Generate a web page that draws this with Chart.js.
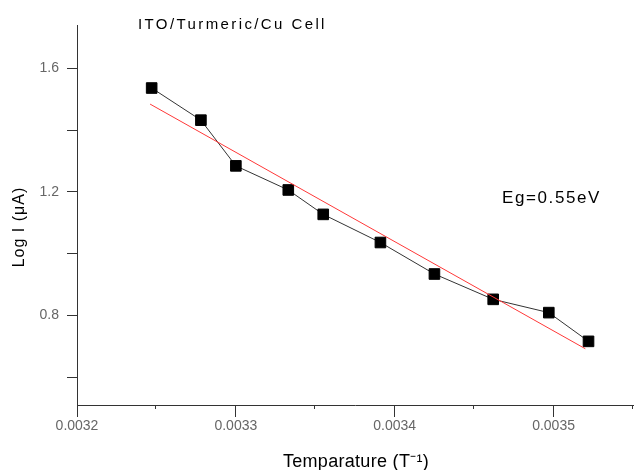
<!DOCTYPE html>
<html>
<head>
<meta charset="utf-8">
<script src="https://cdn.jsdelivr.net/npm/chart.js@4"></script>
<style>
  body { margin: 0; background: #fff; }
  #wrap { width: 634px; height: 470px; }
</style>
</head>
<body>
<div id="wrap"><canvas id="chart" width="634" height="470"></canvas></div>
<script>
// data
const tempInv = [0.003247, 0.003278, 0.003300, 0.003333, 0.003355, 0.003391, 0.003425, 0.003462, 0.003497, 0.003522];
const logI = [1.536, 1.432, 1.284, 1.206, 1.127, 1.036, 0.934, 0.852, 0.809, 0.716];

// linear fit (red)
const fitX = [0.003246, 0.003520];
const fitY = [1.484, 0.692];

// ticks
const xTicks = [0.0032, 0.0033, 0.0034, 0.0035];
const xTickLabels = ["0.0032", "0.0033", "0.0034", "0.0035"];
const xMinorTicks = [0.00325, 0.00335, 0.00345, 0.00355];
const yTicks = [0.6, 0.8, 1.0, 1.2, 1.4, 1.6];
const yTickLabels = ["", "0.8", "", "1.2", "", "1.6"];

const chartTitle = "ITO/Turmeric/Cu Cell";
const noteText = "Eg=0.55eV";
const xTitle = "Temparature (T\u207B\u00B9)";
const yTitle = "Log I (\u03BCA)";

const FONT = "'Liberation Sans', Arial, sans-serif";

const textPlugin = {
  id: "texts",
  afterDraw(chart) {
    const ctx = chart.ctx;
    const xs = chart.scales.x;
    ctx.save();
    // minor ticks on x axis
    ctx.strokeStyle = "#333";
    ctx.lineWidth = 1;
    xMinorTicks.forEach(v => {
      const px = Math.round(xs.getPixelForValue(v)) - 0.5;
      ctx.beginPath();
      ctx.moveTo(px, xs.top);
      ctx.lineTo(px, xs.top + 4);
      ctx.stroke();
    });

    ctx.fillStyle = "#000";
    ctx.textBaseline = "alphabetic";
    ctx.textAlign = "left";
    ctx.font = "15px " + FONT;
    ctx.letterSpacing = "2.4px";
    ctx.fillText(chartTitle, 138, 29);

    ctx.font = "17px " + FONT;
    ctx.letterSpacing = "1.6px";
    ctx.fillText(noteText, 502, 203);

    ctx.font = "18px " + FONT;
    ctx.letterSpacing = "0.3px";
    ctx.textAlign = "center";
    ctx.fillText(xTitle, 356, 467);

    ctx.translate(24, 227);
    ctx.rotate(-Math.PI / 2);
    ctx.font = "16px " + FONT;
    ctx.letterSpacing = "1px";
    ctx.fillText(yTitle, 0, 0);
    ctx.restore();
  }
};

const ctx = document.getElementById("chart").getContext("2d");
new Chart(ctx, {
  type: "scatter",
  data: {
    datasets: [
      {
        data: fitX.map((x, i) => ({ x: x, y: fitY[i] })),
        showLine: true,
        borderColor: "#ff3838",
        borderWidth: 1,
        pointRadius: 0,
        order: 0
      },
      {
        data: tempInv.map((x, i) => ({ x: x, y: logI[i] })),
        showLine: true,
        borderColor: "#333",
        borderWidth: 1,
        pointStyle: "rect",
        pointRadius: 7.5,
        pointBackgroundColor: "#000",
        pointBorderColor: "#000",
        pointBorderWidth: 1,
        order: 1
      }
    ]
  },
  options: {
    responsive: false,
    animation: false,
    layout: { autoPadding: false, padding: { top: 25, right: 1, left: 0, bottom: 0 } },
    plugins: {
      legend: { display: false },
      tooltip: { enabled: false }
    },
    scales: {
      x: {
        type: "linear",
        min: 0.0032,
        max: 0.00355,
        afterBuildTicks: s => { s.ticks = xTicks.map(v => ({ value: v })); },
        afterFit: s => { s.height = 65; s.paddingLeft = 0; s.paddingRight = 0; },
        ticks: {
          autoSkip: false,
          maxRotation: 0,
          padding: 1,
          color: "#666",
          font: { family: FONT, size: 14 },
          callback: (v, i) => xTickLabels[i]
        },
        grid: { drawOnChartArea: false, drawTicks: true, tickLength: 12, color: "#333" },
        border: { display: true, color: "#333", width: 1 }
      },
      y: {
        type: "linear",
        min: 0.51,
        max: 1.74,
        afterBuildTicks: s => { s.ticks = yTicks.map(v => ({ value: v })); },
        afterFit: s => { s.width = 77; s.paddingTop = 0; s.paddingBottom = 0; },
        ticks: {
          autoSkip: false,
          padding: 8,
          color: "#666",
          font: { family: FONT, size: 14 },
          callback: (v, i) => yTickLabels[i]
        },
        grid: { drawOnChartArea: false, drawTicks: true, tickLength: 10, color: "#333" },
        border: { display: true, color: "#333", width: 1 }
      }
    }
  },
  plugins: [textPlugin]
});
</script>
</body>
</html>
